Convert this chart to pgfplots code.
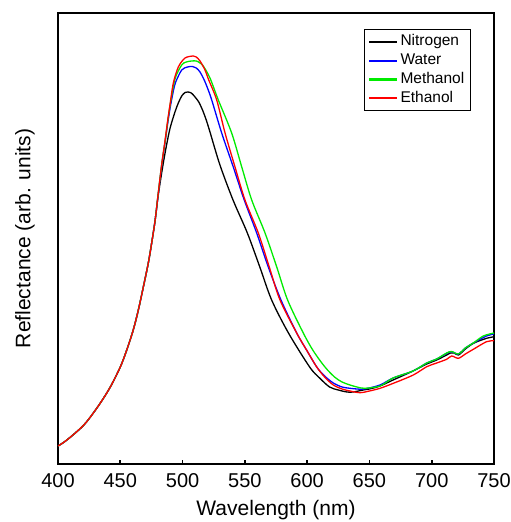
\documentclass[border=0pt]{standalone}
\usepackage{fontspec}
\setmainfont{Liberation Sans}
\usepackage{pgfplots}
\pgfplotsset{compat=1.18}
\definecolor{cgreen}{rgb}{0,0.92,0}
\begin{document}
\begin{tikzpicture}
\begin{axis}[
  scale only axis, width=218pt, height=225.5pt,
  xmin=400, xmax=750, ymin=0, ymax=451,
  xtick={400,450,...,750}, ytick=\empty,
  xtick pos=bottom, tick align=inside, major tick length=2pt,
  axis line style={line width=1pt}, every tick/.style={line width=0.8pt,black},
  /pgf/number format/assume math mode=true,
  /pgf/number format/1000 sep={},
  ticklabel style={font=\fontsize{10}{12}\selectfont},
  xticklabel style={yshift=-1.4pt, inner xsep=0pt},
  xlabel={Wavelength (nm)}, ylabel={Reflectance (arb. units)},
  label style={font=\fontsize{10.5}{12.6}\selectfont, inner sep=0pt},
  xlabel style={at={(axis description cs:0.5,-0.102)}, anchor=center},
  ylabel style={at={(axis description cs:-0.0757,0.5)}, anchor=center},
  legend style={at={(1,1)}, anchor=north east, xshift=-11.5pt, yshift=-8pt,
    draw=black, line width=0.5pt, font=\fontsize{7.75}{9}\selectfont,
    inner xsep=2pt, inner ysep=1.5pt,
    nodes={inner sep=1.1pt, text height=5.6pt, text depth=1.6pt}},
  legend cell align=left,
  legend image code/.code={\draw[#1, line width=1.1pt, sharp plot] (0pt,0pt) -- (14pt,0pt);},
  every axis plot/.append style={line width=0.65pt, smooth, tension=0.5},
]
\addplot[black] coordinates {
(400,18) (405,22) (412,29) (420,38) (426,47) (434,61) (442,77) (450,97) (455.2,114) (460.4,134) (464.5,154) (468.5,177) (472.5,201) (475.2,221) (478,244) (480.5,269) (484,297) (487,318) (490,336) (493.9,352) (496.6,361) (499.3,368) (502,371.5) (504.1,372) (507,371) (510,367) (513,362) (516,354) (519,344) (522,332) (530,299) (540.5,264) (552,231) (562,197) (571.5,164) (585,131) (602,97) (610,86) (618,77) (625,74) (632,72) (637,72) (645,74) (650,75) (658.5,78) (669,84) (685,93) (696,100) (704,104) (712,109) (715,111) (718,111) (721.5,109) (727,115) (733.5,120.7) (740,124) (744,125.7) (750,127.3)
};
\addlegendentry{Nitrogen}
\addplot[blue] coordinates {
(400,18) (405,22) (412,29) (420,38) (426,47) (434,61) (442,77) (450,97) (455.2,114) (460.4,134) (464.5,154) (468.5,177) (472.5,201) (475.2,221) (478,244) (480.5,270) (483.3,299) (486,322) (488,340) (490,356) (492.6,373) (494.5,382) (499.3,394) (504,397) (508,397.5) (511,396) (514,392) (517,385) (520,376) (523.4,364) (531.4,331) (540.7,297) (549.5,264) (559.5,231) (568.8,197) (579,164) (591.6,131) (600,113) (607.7,97) (614,88) (621,81) (628,77) (634.4,75.7) (640,75) (646,75) (658.5,79) (669,86) (685,93) (696,101) (704,105) (712,110.7) (716,112.3) (721.4,110) (727,116) (733.4,121) (744,128) (750,130)
};
\addlegendentry{Water}
\addplot[cgreen] coordinates {
(400,18) (405,22) (412,29) (420,38) (426,47) (434,61) (442,77) (450,97) (455.2,114) (460.4,134) (464.5,154) (468.5,177) (472.5,201) (475.2,221) (478,244) (480.5,271) (483.3,300) (486,323) (488,342) (490,359) (493.9,385) (499.3,399) (503,402) (507.3,403) (511,403) (514,401) (516.6,398) (522,386) (528.7,364) (539.4,331) (547.5,297) (555.5,264) (566.2,231) (575.6,197) (584.3,164) (596.9,131) (605,113) (614.3,97) (622,87) (628,82) (634.4,79) (640,77) (646,75.7) (658.5,78) (669,86) (685,93) (696,101) (704,105) (712,111) (716,112.5) (721.4,110) (727,116) (733.4,121) (741.4,128) (750,131)
};
\addlegendentry{Methanol}
\addplot[red] coordinates {
(400,18) (405,22) (412,29) (420,38) (426,47) (434,61) (442,77) (450,97) (455.2,114) (460.4,134) (464.5,154) (468.5,177) (472.5,201) (475.2,221) (478,244) (480.5,271) (483.3,300) (486,324) (488,343) (490,360) (492.6,381) (496.6,397) (502,406) (508.6,408) (511,407) (514,403) (518,394) (521,384) (527.4,364) (534.1,331) (542.1,297) (550.1,264) (560.8,231) (569.6,197) (578.2,164) (591.6,131) (600,113) (607.7,97) (614,87) (621,79) (628,75) (634.4,73) (642.4,71.3) (650,73) (658.5,75.7) (669.2,80.7) (685.2,89) (696,97.3) (704,101) (712,104.7) (716,108) (721.4,105.7) (727,110) (733.4,114.7) (744,122.3) (750,123.3)
};
\addlegendentry{Ethanol}
\end{axis}
\path ([shift={(-29pt,-29pt)}]current axis.south west) rectangle ([shift={(8.5pt,6.5pt)}]current axis.north east);
\end{tikzpicture}
\end{document}
